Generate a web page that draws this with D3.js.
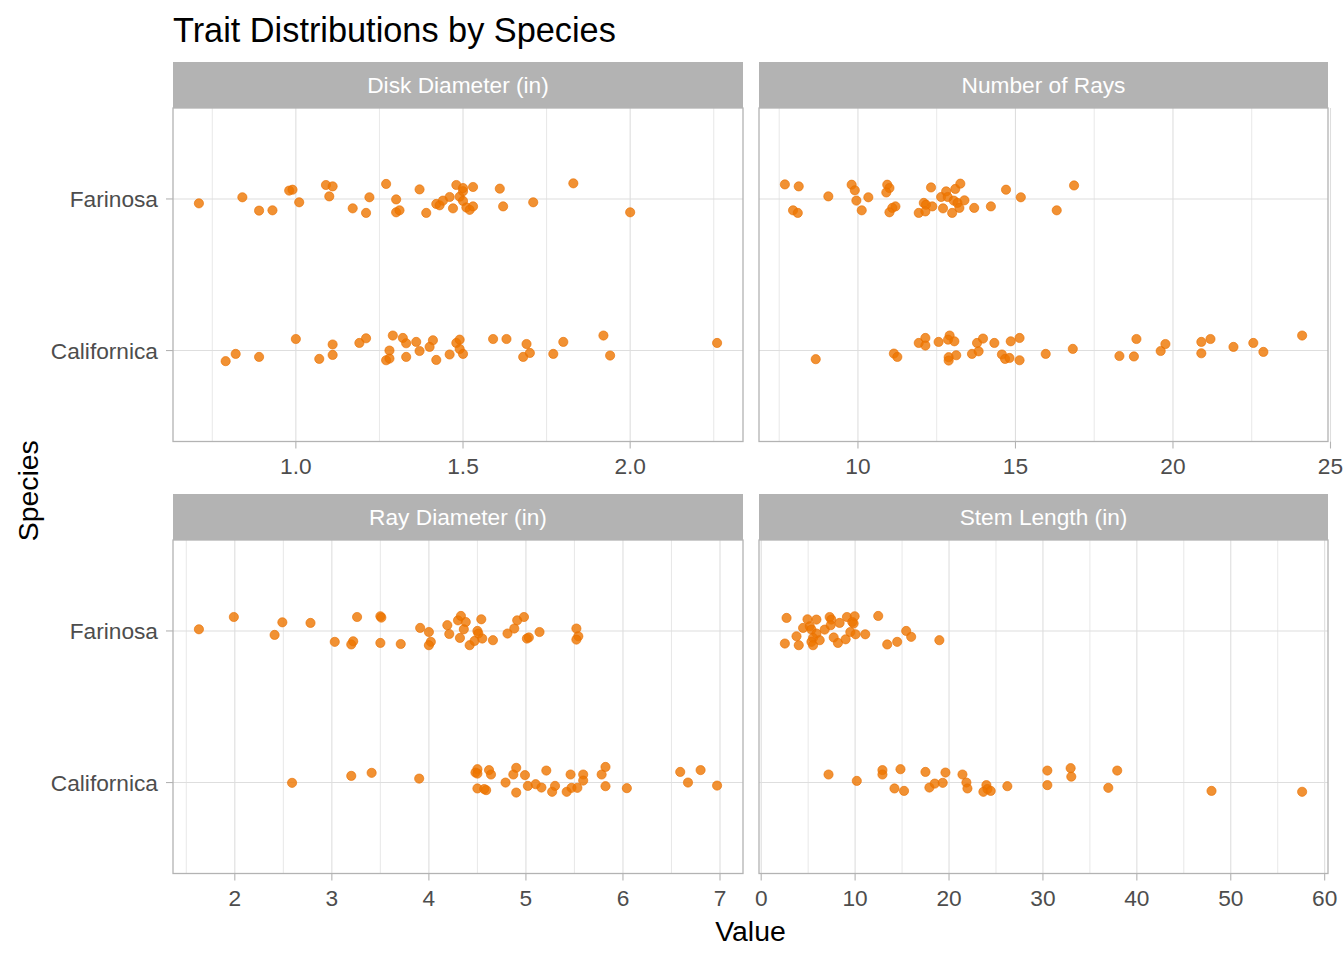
<!DOCTYPE html>
<html><head><meta charset="utf-8">
<script src="https://cdn.jsdelivr.net/npm/d3@7"></script>
<style>body{margin:0;background:#fff}svg{display:block}</style>
</head><body>
<script>
// ---------------- DATA ----------------
const traits = ["Disk Diameter (in)", "Number of Rays", "Ray Diameter (in)", "Stem Length (in)"];
const species = ["Farinosa", "Californica"];

const diskTicks = [1.0, 1.5, 2.0];
const diskMinor = [0.75, 1.25, 1.75, 2.25];
const raysTicks = [10, 15, 20, 25];
const raysMinor = [7.5, 12.5, 17.5, 22.5];
const rayDiamTicks = [2, 3, 4, 5, 6, 7];
const rayDiamMinor = [1.5, 2.5, 3.5, 4.5, 5.5, 6.5];
const stemTicks = [0, 10, 20, 30, 40, 50, 60];
const stemMinor = [5, 15, 25, 35, 45, 55];

// values and vertical jitter (category units, + = up)
const diskFarinosa = [0.71,0.84,0.89,0.93,0.98,0.99,1.01,1.09,1.11,1.10,1.17,1.21,1.22,1.27,1.30,1.30,1.31,1.37,1.39,1.42,1.43,1.44,1.46,1.48,1.47,1.49,1.50,1.50,1.50,1.51,1.52,1.53,1.53,1.61,1.62,1.71,1.83,2.00];
const diskFarinosaJit = [-0.029,0.011,-0.077,-0.075,0.055,0.061,-0.022,0.092,0.083,0.017,-0.062,-0.092,0.011,0.099,-0.003,-0.088,-0.075,0.063,-0.092,-0.033,-0.042,-0.011,0.013,0.092,-0.062,0.015,0.051,-0.013,0.072,-0.056,-0.072,0.079,-0.049,0.068,-0.049,-0.022,0.103,-0.088];
const diskCalifornica = [0.79,0.82,0.89,1.00,1.07,1.11,1.11,1.19,1.21,1.29,1.32,1.28,1.27,1.28,1.33,1.33,1.36,1.37,1.41,1.40,1.42,1.46,1.48,1.49,1.49,1.50,1.59,1.63,1.69,1.68,1.70,1.77,1.80,1.92,1.94,2.26];
const diskCalifornicaJit = [-0.070,-0.022,-0.042,0.076,-0.055,0.040,-0.029,0.050,0.081,0.099,0.083,0.000,-0.064,-0.053,0.048,-0.042,0.057,-0.003,0.068,0.024,-0.062,-0.026,0.050,0.072,0.010,-0.022,0.076,0.076,0.043,-0.042,-0.016,-0.022,0.057,0.099,-0.033,0.050];

const raysFarinosa = [7.68,8.12,7.94,8.09,9.06,9.80,9.90,9.95,10.33,10.12,10.93,11.00,10.90,11.19,11.09,11.00,12.32,12.09,12.16,11.93,12.14,12.36,12.64,12.80,12.85,12.70,12.99,13.09,13.25,13.04,13.16,13.22,13.38,13.69,14.22,14.70,15.17,16.31,16.86];
const raysFarinosaJit = [0.096,0.083,-0.075,-0.092,0.017,0.094,0.057,-0.011,0.011,-0.075,0.094,0.072,0.043,-0.049,-0.059,-0.088,0.076,-0.026,-0.038,-0.092,-0.082,-0.049,0.013,0.050,0.013,-0.062,-0.092,0.066,0.101,-0.011,-0.026,-0.059,-0.009,-0.059,-0.049,0.061,0.011,-0.075,0.089];
const raysCalifornica = [8.66,11.14,11.25,11.93,12.14,12.14,12.56,12.91,12.86,13.06,12.88,12.88,13.12,13.62,13.78,13.97,13.83,14.33,14.57,14.67,14.81,14.85,15.13,15.13,15.96,16.82,18.30,18.76,18.84,19.61,19.76,20.90,21.19,20.90,21.92,22.55,22.87,24.10];
const raysCalifornicaJit = [-0.057,-0.020,-0.042,0.050,0.083,0.033,0.057,0.099,0.072,0.061,-0.044,-0.066,-0.031,-0.022,0.050,0.079,-0.005,0.050,-0.026,-0.055,-0.049,0.061,0.083,-0.064,-0.022,0.011,-0.036,-0.039,0.076,-0.003,0.043,0.057,0.076,-0.018,0.024,0.050,-0.009,0.099];

const rayDiamFarinosa = [1.63,1.99,2.41,2.49,2.78,3.03,3.20,3.22,3.26,3.50,3.51,3.50,3.71,3.91,4.00,4.02,4.00,4.19,4.21,4.30,4.33,4.38,4.36,4.32,4.42,4.47,4.54,4.50,4.51,4.55,4.66,4.81,4.88,4.91,4.98,5.01,5.03,5.14,5.52,5.54,5.52];
const rayDiamFarinosaJit = [0.011,0.092,-0.026,0.057,0.053,-0.072,-0.089,-0.068,0.092,0.097,0.088,-0.079,-0.086,0.020,-0.007,-0.072,-0.094,0.038,-0.020,0.070,0.099,0.059,0.011,-0.046,-0.094,-0.066,0.077,0.000,-0.017,-0.050,-0.061,-0.017,0.016,0.070,0.092,-0.050,-0.043,-0.007,0.016,-0.035,-0.057];
const rayDiamCalifornica = [2.59,3.20,3.41,3.90,4.50,4.48,4.50,4.62,4.64,4.50,4.59,4.57,4.79,4.90,4.87,4.90,4.99,5.02,5.10,5.16,5.21,5.30,5.27,5.42,5.46,5.47,5.53,5.59,5.59,5.78,5.82,5.82,6.04,6.59,6.67,6.80,6.97];
const rayDiamCalifornicaJit = [-0.002,0.044,0.064,0.026,0.088,0.066,0.059,0.082,0.053,-0.039,-0.050,-0.043,0.000,0.097,0.053,-0.066,0.049,-0.022,-0.011,-0.033,0.079,-0.022,-0.061,-0.061,0.053,-0.035,-0.035,0.053,0.013,0.053,0.103,-0.024,-0.037,0.070,0.000,0.082,-0.020];

const stemFarinosa = [2.70,2.52,4.00,3.76,4.93,5.88,4.46,5.17,5.35,5.88,5.52,5.35,5.52,6.23,6.76,7.29,7.47,7.40,8.35,7.72,8.17,8.99,9.13,9.95,9.70,9.84,9.49,10.05,11.08,12.46,13.42,14.48,15.44,15.97,18.97];
const stemFarinosaJit = [0.086,-0.083,-0.094,-0.035,0.077,0.075,0.020,0.031,0.009,-0.017,-0.046,-0.072,-0.094,-0.061,0.009,0.092,0.075,0.038,0.053,-0.043,-0.079,-0.055,0.092,0.097,0.059,0.049,-0.007,-0.022,-0.022,0.099,-0.089,-0.072,0.000,-0.039,-0.061];
const stemCalifornica = [7.17,10.18,12.91,12.91,14.83,14.19,15.21,17.49,17.91,18.48,19.33,19.62,21.43,21.85,21.96,23.98,24.09,23.66,24.44,26.21,30.47,30.47,32.95,33.02,36.96,37.91,47.95,57.60];
const stemCalifornicaJit = [0.053,0.011,0.082,0.053,0.088,-0.039,-0.055,0.070,-0.033,-0.007,-0.002,0.066,0.053,0.000,-0.039,-0.017,-0.043,-0.061,-0.055,-0.024,0.079,-0.017,0.095,0.039,-0.035,0.079,-0.055,-0.061];

// ---------------- BUILD ----------------
const panelsData = [
  {title: traits[0], ticks: diskTicks, minor: diskMinor, fmt: d3.format(".1f"),
   series: [[species[0], diskFarinosa, diskFarinosaJit], [species[1], diskCalifornica, diskCalifornicaJit]]},
  {title: traits[1], ticks: raysTicks, minor: raysMinor, fmt: d3.format("d"),
   series: [[species[0], raysFarinosa, raysFarinosaJit], [species[1], raysCalifornica, raysCalifornicaJit]]},
  {title: traits[2], ticks: rayDiamTicks, minor: rayDiamMinor, fmt: d3.format("d"),
   series: [[species[0], rayDiamFarinosa, rayDiamFarinosaJit], [species[1], rayDiamCalifornica, rayDiamCalifornicaJit]]},
  {title: traits[3], ticks: stemTicks, minor: stemMinor, fmt: d3.format("d"),
   series: [[species[0], stemFarinosa, stemFarinosaJit], [species[1], stemCalifornica, stemCalifornicaJit]]}
];

const W = 1344, H = 960;
const FONT = "'Liberation Sans', Arial, Helvetica, sans-serif";
const cols = [[173, 743], [759, 1328]];
const rows = [{strip: 62, top: 108, bottom: 441.5}, {strip: 494, top: 540, bottom: 873.5}];
const orange = "#EE7600";

const svg = d3.select("body").append("svg").attr("width", W).attr("height", H)
  .style("font-family", FONT);

svg.append("text").attr("x", 173).attr("y", 41.5).attr("font-size", 34.3).attr("fill", "#000")
  .text("Trait Distributions by Species");

panelsData.forEach((p, i) => {
  const c = cols[i % 2], r = rows[Math.floor(i / 2)];
  const all = p.series.flatMap(s => s[1]);
  const [mn, mx] = d3.extent(all);
  const pad = (mx - mn) * 0.05;
  const x = d3.scaleLinear().domain([mn - pad, mx + pad]).range(c);
  const y = d3.scalePoint().domain(species).range([r.top, r.bottom]).padding(0.6);
  const g = svg.append("g");

  // strip
  g.append("rect").attr("x", c[0]).attr("y", r.strip).attr("width", c[1] - c[0]).attr("height", r.top - r.strip)
    .attr("fill", "#B3B3B3");
  g.append("text").attr("x", (c[0] + c[1]) / 2).attr("y", (r.strip + r.top) / 2).attr("dy", "0.37em")
    .attr("text-anchor", "middle").attr("font-size", 22.7).attr("fill", "#fff").text(p.title);

  const inRange = v => x(v) >= c[0] - 3 && x(v) <= c[1] + 3;
  // minor grid
  g.selectAll(".mn").data(p.minor.filter(inRange)).join("line")
    .attr("x1", d => x(d)).attr("x2", d => x(d)).attr("y1", r.top).attr("y2", r.bottom)
    .attr("stroke", "#DEDEDE").attr("stroke-width", 0.7);
  // major grid
  g.selectAll(".mj").data(p.ticks.filter(inRange)).join("line")
    .attr("x1", d => x(d)).attr("x2", d => x(d)).attr("y1", r.top).attr("y2", r.bottom)
    .attr("stroke", "#DEDEDE").attr("stroke-width", 1.1);
  g.selectAll(".hy").data(species).join("line")
    .attr("x1", c[0]).attr("x2", c[1]).attr("y1", d => y(d)).attr("y2", d => y(d))
    .attr("stroke", "#DEDEDE").attr("stroke-width", 1.1);

  // points
  p.series.forEach(([sp, vals, jit]) => {
    g.append("g").selectAll("circle").data(vals.map((v, k) => [v, jit[k]])).join("circle")
      .attr("cx", d => x(d[0])).attr("cy", d => y(sp) - d[1] * y.step())
      .attr("r", 4.6).attr("fill", orange).attr("fill-opacity", 0.8)
      .attr("stroke", "#E87000").attr("stroke-opacity", 0.9).attr("stroke-width", 0.7);
  });

  // border
  g.append("rect").attr("x", c[0]).attr("y", r.top).attr("width", c[1] - c[0]).attr("height", r.bottom - r.top)
    .attr("fill", "none").attr("stroke", "#B3B3B3").attr("stroke-width", 1.3);

  // x axis ticks + labels
  const tk = p.ticks.filter(inRange);
  g.selectAll(".xt").data(tk).join("line")
    .attr("x1", d => x(d)).attr("x2", d => x(d)).attr("y1", r.bottom).attr("y2", r.bottom + 7)
    .attr("stroke", "#B3B3B3").attr("stroke-width", 1.1);
  g.selectAll(".xl").data(tk).join("text")
    .attr("x", d => x(d)).attr("y", r.bottom + 32).attr("text-anchor", "middle")
    .attr("font-size", 22.7).attr("fill", "#4D4D4D").text(d => p.fmt(d));

  // y axis on left column
  if (i % 2 === 0) {
    g.selectAll(".yt").data(species).join("line")
      .attr("x1", c[0] - 7).attr("x2", c[0]).attr("y1", d => y(d)).attr("y2", d => y(d))
      .attr("stroke", "#B3B3B3").attr("stroke-width", 1.1);
    g.selectAll(".yl").data(species).join("text")
      .attr("x", c[0] - 15).attr("y", d => y(d)).attr("dy", "0.37em").attr("text-anchor", "end")
      .attr("font-size", 22.7).attr("fill", "#4D4D4D").text(d => d);
  }
});

svg.append("text").attr("x", (173 + 1328) / 2).attr("y", 941).attr("text-anchor", "middle")
  .attr("font-size", 28.4).attr("fill", "#000").text("Value");
svg.append("text").attr("transform", `translate(38,${(108 + 873.5) / 2}) rotate(-90)`)
  .attr("text-anchor", "middle").attr("font-size", 28.4).attr("fill", "#000").text("Species");
</script>
</body></html>
